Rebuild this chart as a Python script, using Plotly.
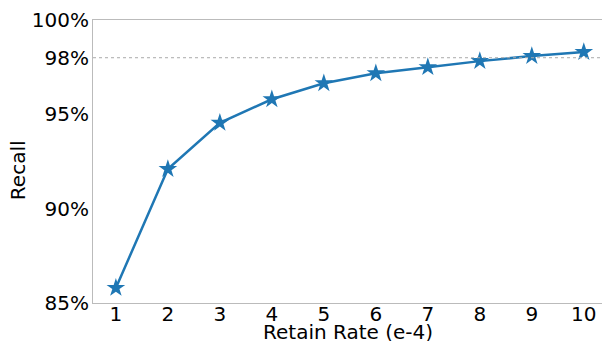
import plotly.graph_objects as go

retain_rate = [1, 2, 3, 4, 5, 6, 7, 8, 9, 10]
recall = [85.8, 92.1, 94.55, 95.8, 96.65, 97.18, 97.5, 97.82, 98.09, 98.3]
y_tick_vals = [85, 90, 95, 98, 100]
y_tick_text = ["85%", "90%", "95%", "98%", "100%"]
ref_level = 98
x_title = "Retain Rate (e-4)"
y_title = "Recall"

FONT = "DejaVu Sans"
BLUE = "#1f77b4"

fig = go.Figure()
fig.add_trace(go.Scatter(
    x=retain_rate, y=recall, mode="lines+markers",
    line=dict(color=BLUE, width=2.5),
    marker=dict(symbol="star", size=14, color=BLUE),
    showlegend=False,
))
fig.add_hline(y=ref_level, line=dict(color="#aaaaaa", width=1, dash="dot"))

fig.update_layout(
    width=602, height=341,
    margin=dict(l=93, r=0, t=20, b=38),
    paper_bgcolor="white", plot_bgcolor="white",
    font=dict(family=FONT, size=20, color="black"),
)
fig.update_xaxes(
    range=[0.56, 10.35], tickvals=retain_rate,
    ticktext=[str(v) for v in retain_rate],
    showgrid=False, zeroline=False,
    showline=True, linecolor="#bbbbbb", linewidth=1, mirror=True,
    ticks="", ticklabelstandoff=-7,
    automargin=False,
)
fig.update_yaxes(
    range=[85, 100], tickvals=y_tick_vals, ticktext=y_tick_text,
    showgrid=False, zeroline=False,
    showline=True, linecolor="#bbbbbb", linewidth=1,
    ticks="", ticklabelstandoff=-1,
    automargin=False,
)
fig.add_annotation(text=x_title, xref="paper", yref="paper", x=0.5, y=-0.103,
                   xanchor="center", yanchor="middle", showarrow=False,
                   font=dict(size=20))
fig.add_annotation(text=y_title, xref="paper", yref="paper", x=-0.147, y=0.47,
                   xanchor="center", yanchor="middle", showarrow=False,
                   textangle=-90, font=dict(size=20))
fig.write_html("out.html", config={"displayModeBar": False},
               post_script="document.body.style.margin='0';")
